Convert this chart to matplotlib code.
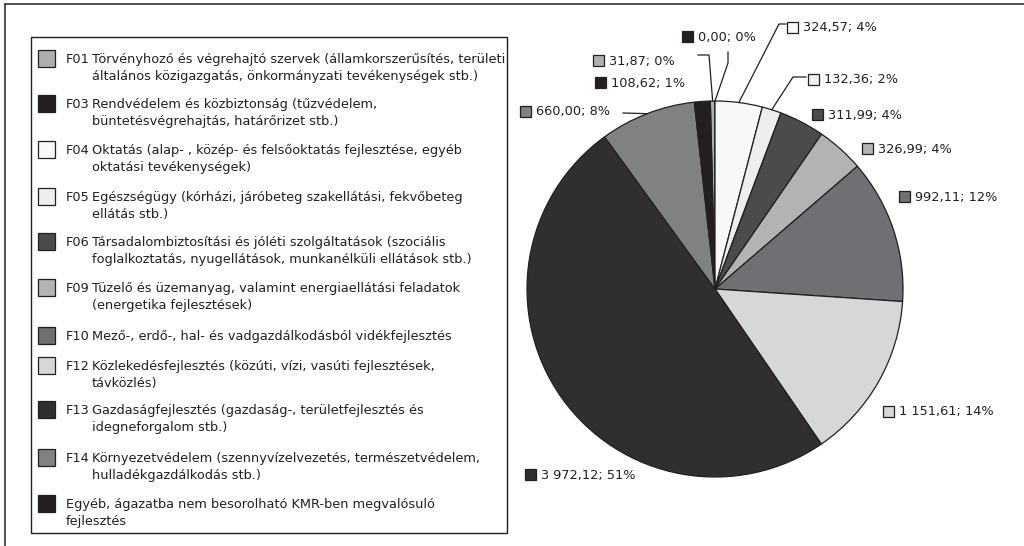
import numpy as np
import matplotlib.pyplot as plt
from matplotlib.patches import Rectangle

# data (legend order)
codes = ["F01", "F03", "F04", "F05", "F06", "F09", "F10", "F12", "F13", "F14", ""]
descriptions = [
    "Törvényhozó és végrehajtó szervek (államkorszerűsítés, területi\náltalános közigazgatás, önkormányzati tevékenységek stb.)",
    "Rendvédelem és közbiztonság (tűzvédelem,\nbüntetésvégrehajtás, határőrizet stb.)",
    "Oktatás (alap- , közép- és felsőoktatás fejlesztése, egyéb\noktatási tevékenységek)",
    "Egészségügy (kórházi, járóbeteg szakellátási, fekvőbeteg\nellátás stb.)",
    "Társadalombiztosítási és jóléti szolgáltatások (szociális\nfoglalkoztatás, nyugellátások, munkanélküli ellátások stb.)",
    "Tüzelő és üzemanyag, valamint energiaellátási feladatok\n(energetika fejlesztések)",
    "Mező-, erdő-, hal- és vadgazdálkodásból vidékfejlesztés",
    "Közlekedésfejlesztés (közúti, vízi, vasúti fejlesztések,\ntávközlés)",
    "Gazdaságfejlesztés (gazdaság-, területfejlesztés és\nidegneforgalom stb.)",
    "Környezetvédelem (szennyvízelvezetés, természetvédelem,\nhulladékgazdálkodás stb.)",
    "Egyéb, ágazatba nem besorolható KMR-ben megvalósuló\nfejlesztés",
]
values = [31.87, 0.00, 324.57, 132.36, 311.99, 326.99, 992.11, 1151.61, 3972.12, 660.00, 108.62]
percents = [0, 0, 4, 2, 4, 4, 12, 14, 51, 8, 1]
colors = ["#AEAEB0", "#231F20", "#F8F8F8", "#EEEEEF", "#4A4B4D", "#B2B3B5",
          "#6F7073", "#D6D7D9", "#302E30", "#808183", "#231F20"]

# layout (pixels, y from top)
W, H = 1024, 546
cx, cy, R = 715, 289, 188
legend_y = [59, 104, 150, 197, 242, 288, 336, 366, 410, 458, 504]
label_pos = [(593, 60), (682, 36), (787, 27), (808, 79), (812, 114), (862, 148),
             (899, 196), (883, 411), (525, 474), (520, 111), (595, 82)]
# elbow points of leader lines
leaders = {0: [(698, 55), (709, 55)], 1: [(728, 52), (728, 63)],
           2: [(786, 24), (779, 24)], 3: [(806, 77), (793, 77)],
           9: [(623, 113)]}

edge = "#231F20"
plt.rcParams['font.family'] = ['DejaVu Sans']
fig = plt.figure(figsize=(W / 100, H / 100), dpi=100)

# pie
pax = fig.add_axes([(cx - R) / W, (H - cy - R) / H, 2 * R / W, 2 * R / H])
ang0 = 90 + 360 * values[0] / sum(values)
wedges, _ = pax.pie(values, colors=colors, startangle=ang0, counterclock=False,
                    wedgeprops=dict(edgecolor=edge, linewidth=0.9))
pax.set_xlim(-1, 1)
pax.set_ylim(-1, 1)

# overlay in pixel coords
ov = fig.add_axes([0, 0, 1, 1], zorder=5)
ov.set_xlim(0, W)
ov.set_ylim(H, 0)
ov.axis('off')
ov.patch.set_alpha(0)

# outer frame (top and left edges visible)
ov.plot([5, W], [4, 4], color="#333333", lw=1.2)
ov.plot([5, 5], [4, H], color="#333333", lw=1.2)

# legend box
ov.add_patch(Rectangle((31, 37), 476, 496, facecolor="white", edgecolor=edge, lw=1))
fs = 9.3
for code, desc, col, y in zip(codes, descriptions, colors, legend_y):
    ov.add_patch(Rectangle((38, y - 9), 17, 17, facecolor=col, edgecolor=edge, lw=0.9))
    lines = desc.split("\n")
    if code:
        ov.text(66, y + 4, code, fontsize=fs, color=edge, va='baseline')
        x0 = 92
    else:
        x0 = 66
    for i, line in enumerate(lines):
        ov.text(x0, y + 4 + i * 17, line, fontsize=fs, color=edge, va='baseline')


def fmt(v):
    s = f"{v:,.2f}"
    return s.replace(",", " ").replace(".", ",")


# data labels
for i, (w, v, p) in enumerate(zip(wedges, values, percents)):
    x, y = label_pos[i]
    ov.add_patch(Rectangle((x, y - 5.5), 11, 11, facecolor=colors[i], edgecolor=edge, lw=0.9))
    ov.text(x + 16, y + 4.5, f"{fmt(v)}; {p}%", fontsize=fs, color=edge, va='baseline')
    if i in leaders:
        mid = np.deg2rad((w.theta1 + w.theta2) / 2)
        ex, ey = cx + R * np.cos(mid), cy - R * np.sin(mid)
        pts = leaders[i] + [(ex, ey)]
        ov.plot([q[0] for q in pts], [q[1] for q in pts], color=edge, lw=0.9)

fig.savefig("out.png", dpi=100, facecolor="white")
